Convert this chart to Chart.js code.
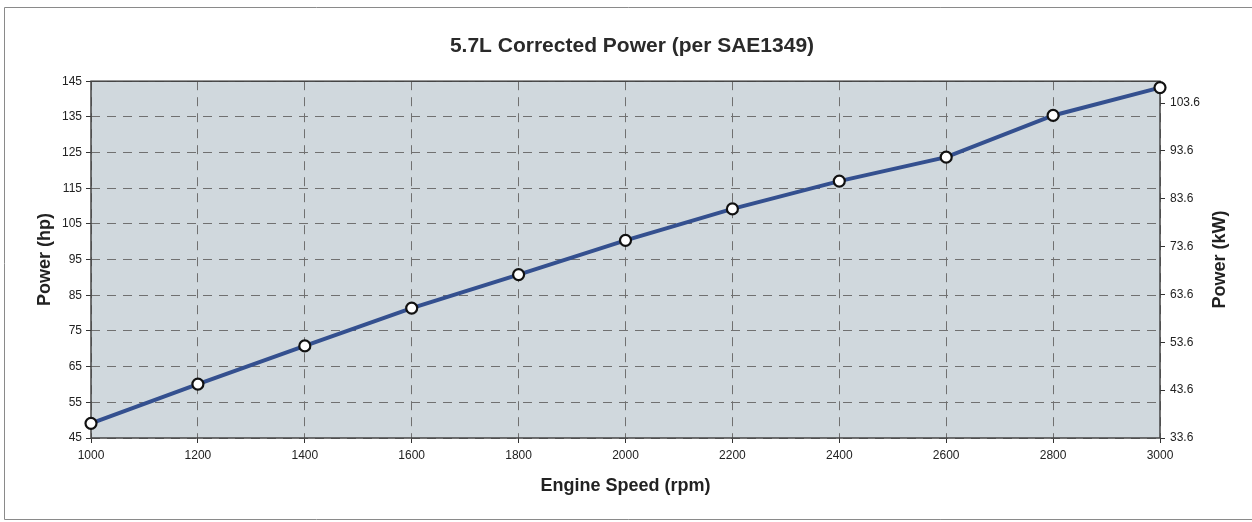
<!doctype html>
<html lang="en">
<head>
<meta charset="utf-8">
<title>5.7L Corrected Power</title>
<script src="https://cdn.jsdelivr.net/npm/chart.js@4.4.1/dist/chart.umd.min.js"></script>
<style>
  html, body { margin: 0; padding: 0; background: #fff; }
  #wrap { width: 1252px; height: 522px; }
</style>
</head>
<body>
<div id="wrap"><canvas id="canvas" width="1252" height="522"></canvas></div>
<script>
// engine speed (rpm) and corrected power (hp)
var rpm = [1000, 1200, 1400, 1600, 1800, 2000, 2200, 2400, 2600, 2800, 3000];
var hp = [49.1, 60.1, 70.8, 81.4, 90.8, 100.4, 109.2, 117.0, 123.7, 135.4, 143.2];

// right hand axis labels (kW)
var kwTicks = [33.6, 43.6, 53.6, 63.6, 73.6, 83.6, 93.6, 103.6];
var hpMin = 45, hpMax = 145, hpStep = 10;
var kwPerHp = 0.7457;

var font = "'Liberation Sans', Arial, sans-serif";

var points = rpm.map(function(r, i) { return {x: r, y: hp[i]}; });

// grey plot background + solid frame, outer page border, kW axis title
var frame = {
  id: 'frame',
  beforeDraw: function(chart) {
    var ctx = chart.ctx, a = chart.chartArea;
    ctx.save();
    ctx.fillStyle = '#fff';
    ctx.fillRect(0, 0, chart.width, chart.height);
    ctx.strokeStyle = '#8a8a8a';
    ctx.lineWidth = 1;
    ctx.beginPath();
    ctx.moveTo(1260, 7.5); ctx.lineTo(4.5, 7.5); ctx.lineTo(4.5, 519.5); ctx.lineTo(1260, 519.5);
    ctx.stroke();
    ctx.fillStyle = '#d0d8dd';
    ctx.fillRect(a.left, a.top, a.right - a.left, a.bottom - a.top);
    ctx.restore();
  },
  beforeDatasetsDraw: function(chart) {
    var ctx = chart.ctx, a = chart.chartArea;
    ctx.save();
    ctx.strokeStyle = '#444';
    ctx.lineWidth = 1.5;
    ctx.strokeRect(a.left, a.top, a.right - a.left, a.bottom - a.top);
    ctx.restore();
  },
  afterDraw: function(chart) {
    // right axis title reads bottom to top, like the left one
    var ctx = chart.ctx, a = chart.chartArea;
    ctx.save();
    ctx.translate(1220, (a.top + a.bottom) / 2);
    ctx.rotate(-Math.PI / 2);
    ctx.fillStyle = '#222';
    ctx.font = 'bold 18px ' + font;
    ctx.textAlign = 'center';
    ctx.textBaseline = 'middle';
    ctx.fillText('Power (kW)', 0, 0);
    ctx.restore();
  }
};

var config = {
  type: 'line',
  data: {
    datasets: [{
      label: 'Power',
      data: points,
      borderColor: '#34508f',
      borderWidth: 4,
      pointRadius: 5.5,
      pointBorderWidth: 2.2,
      pointBackgroundColor: '#fff',
      pointBorderColor: '#111',
      tension: 0,
      clip: false,
      yAxisID: 'y'
    }]
  },
  options: {
    responsive: false,
    animation: false,
    events: [],
    layout: { padding: { left: 20, right: 8, top: 7, bottom: 14 } },
    plugins: {
      legend: { display: false },
      tooltip: { enabled: false },
      title: {
        display: true,
        text: '5.7L Corrected Power (per SAE1349)',
        color: '#2a2a2a',
        font: { family: font, size: 21, weight: 'bold', lineHeight: 1.2 },
        padding: { top: 27, bottom: 22 }
      }
    },
    scales: {
      x: {
        type: 'linear',
        min: 1000, max: 3000,
        ticks: {
          stepSize: 200, color: '#222', font: { family: font, size: 12 }, padding: 5,
          callback: function(v) { return String(v); }
        },
        grid: { color: '#707070', lineWidth: 1, tickLength: 5, tickColor: '#333', tickBorderDash: [] },
        border: { display: false, dash: [9, 7] },
        title: {
          display: true, text: 'Engine Speed (rpm)', color: '#222',
          font: { family: font, size: 18, weight: 'bold', lineHeight: 1.2 },
          padding: { top: 4, bottom: 11 }
        },
        afterFit: function(s) { s.height = 70; }
      },
      y: {
        position: 'left',
        min: hpMin, max: hpMax,
        ticks: { stepSize: hpStep, color: '#222', font: { family: font, size: 12 }, padding: 4 },
        grid: { color: '#707070', lineWidth: 1, tickLength: 5, tickColor: '#333', tickBorderDash: [] },
        border: { display: false, dash: [9, 7] },
        title: {
          display: true, text: 'Power (hp)', color: '#222',
          font: { family: font, size: 18, weight: 'bold', lineHeight: 1.2 },
          padding: { top: 14, bottom: 4 }
        },
        afterFit: function(s) { s.width = 71; }
      },
      y2: {
        position: 'right',
        min: kwTicks[0], max: kwTicks[0] + (hpMax - hpMin) * kwPerHp,
        afterBuildTicks: function(s) {
          s.ticks = kwTicks.map(function(v) { return {value: v}; });
        },
        ticks: {
          color: '#222', font: { family: font, size: 12 }, padding: 5,
          callback: function(v) { return Number(v).toFixed(1); }
        },
        grid: { drawOnChartArea: false, tickLength: 5, tickColor: '#333' },
        border: { display: false },
        title: { display: false },
        afterFit: function(s) { s.width = 84; }
      }
    }
  },
  plugins: [frame]
};

window.myChart = new Chart(document.getElementById('canvas'), config);
</script>
</body>
</html>
